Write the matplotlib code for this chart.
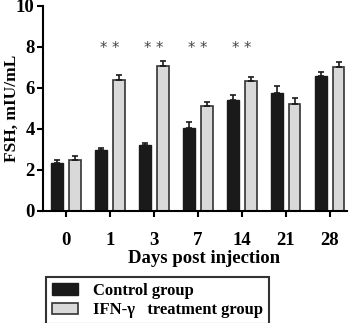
import numpy as np
import matplotlib
matplotlib.use('Agg')
import matplotlib.pyplot as plt
from matplotlib.patches import Patch

days = ['0', '1', '3', '7', '14', '21', '28']
control = [2.35, 2.95, 3.2, 4.05, 5.43, 5.77, 6.58]
control_err = [0.12, 0.12, 0.1, 0.3, 0.2, 0.33, 0.17]
treat = [2.5, 6.39, 7.05, 5.12, 6.34, 5.2, 7.04]
treat_err = [0.2, 0.25, 0.25, 0.2, 0.2, 0.3, 0.2]
signif = ['', '**', '**', '**', '**', '', '']

plt.rcParams['font.family'] = 'Liberation Serif'
plt.rcParams['font.weight'] = 'bold'

fig = plt.figure(figsize=(3.58, 3.23), dpi=100)
ax = fig.add_axes([0.12, 0.347, 0.849, 0.635])

x = np.arange(len(days))
w = 0.27
off = 0.2
ax.bar(x - off, control, w, color='#1a1a1a', edgecolor='#1a1a1a', linewidth=1)
ax.bar(x + off, treat, w, color='#d9d9d9', edgecolor='#333333', linewidth=1.2)
ax.errorbar(x - off, control, yerr=[np.zeros(len(x)), control_err], fmt='none',
            ecolor='#1a1a1a', elinewidth=1.2, capsize=2, capthick=1.2)
ax.errorbar(x + off, treat, yerr=[np.zeros(len(x)), treat_err], fmt='none',
            ecolor='#1a1a1a', elinewidth=1.2, capsize=2, capthick=1.2)
for i, s in enumerate(signif):
    if s:
        ax.text(x[i], 8.3, '* *', ha='center', va='top', fontsize=10.5,
                fontweight='normal', color='#444444', family='DejaVu Sans')

ax.set_xlim(-0.52, 6.39)
ax.set_ylim(0, 10)
ax.set_yticks([0, 2, 4, 6, 8, 10])
ax.set_xticks(x)
ax.set_xticklabels(days)
ax.spines['top'].set_visible(False)
ax.spines['right'].set_visible(False)
ax.spines['left'].set_linewidth(1.5)
ax.spines['bottom'].set_linewidth(1.5)
ax.tick_params(width=1.5, length=4, labelsize=13.5)
ax.tick_params(axis='x', pad=11)
ax.tick_params(axis='y', pad=2)
for t in ax.get_xticklabels() + ax.get_yticklabels():
    t.set_fontweight('bold')
ax.set_ylabel('FSH, mIU/mL', fontsize=12.5, fontweight='bold')
ax.yaxis.set_label_coords(-0.075, 0.5)
ax.set_xlabel('Days post injection', fontsize=13.5, fontweight='bold', labelpad=1)
ax.xaxis.set_label_coords(0.53, -0.19)

handles = [Patch(facecolor='#1a1a1a', edgecolor='#1a1a1a', label='Control group'),
           Patch(facecolor='#d9d9d9', edgecolor='#333333', linewidth=1.2,
                 label='IFN-\u03b3   treatment group')]
leg = fig.legend(handles=handles, loc='lower left', bbox_to_anchor=(0.128, -0.004),
                 borderaxespad=0,
                 frameon=True, fancybox=False, edgecolor='black',
                 prop={'family': 'Liberation Serif', 'weight': 'bold', 'size': 12},
                 handlelength=1.6, handleheight=0.7, handletextpad=0.9,
                 borderpad=0.35, labelspacing=0.2)
leg.get_frame().set_linewidth(1.5)

fig.savefig('out.png', dpi=100)
